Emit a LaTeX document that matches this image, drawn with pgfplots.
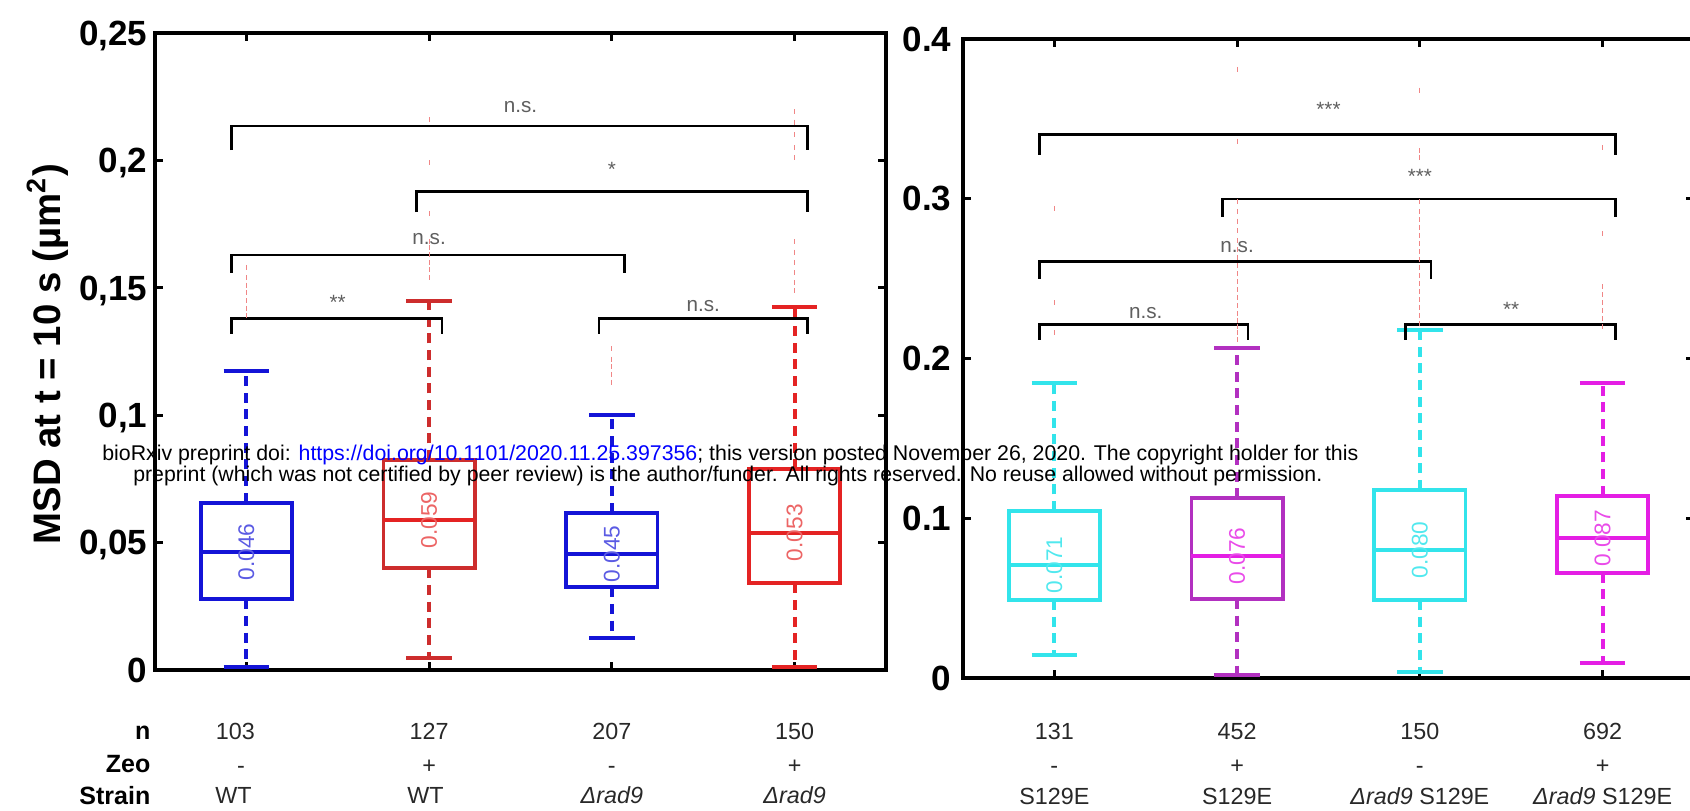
\documentclass[border=0pt]{standalone}
\usepackage{pgfplots}
\pgfplotsset{compat=1.18}
\usepgfplotslibrary{statistics}
\usepackage{fontspec}
\setmainfont{Liberation Sans}
\definecolor{cblue}{RGB}{20,20,215}
\definecolor{cred}{RGB}{228,35,35}
\definecolor{cdred}{RGB}{205,45,45}
\definecolor{ccyan}{RGB}{50,228,235}
\definecolor{cpurple}{RGB}{178,48,192}
\definecolor{cmag}{RGB}{228,30,228}
\definecolor{sig}{RGB}{95,95,95}
\definecolor{urlblue}{RGB}{0,0,255}
\definecolor{txt}{RGB}{40,40,40}

\pgfplotsset{
  mybox/.style={
    scale only axis,
    xmin=0.5, xmax=4.5,
    xtick={1,2,3,4}, xticklabels={},
    tick align=inside,
    major tick length=2.4pt,
    tick style={line width=0.9pt, black},
    axis line style={line width=1.1pt},
    clip=false,
    yticklabel style={font=\fontsize{10.5}{12}\selectfont\bfseries, inner sep=0pt, text depth=0pt, anchor=east},
    boxplot/draw direction=y,
    boxplot/box extend=0.5,
    boxplot/whisker extend=0.25,
    boxplot/draw/lower whisker/.code={%
      \draw[/pgfplots/boxplot/every whisker/.try, dash pattern=on 3pt off 2pt]
        (boxplot cs:\pgfplotsboxplotvalue{lower quartile}) -- (boxplot cs:\pgfplotsboxplotvalue{lower whisker});
      \draw[/pgfplots/boxplot/every whisker/.try, solid]
        (boxplot whisker cs:\pgfplotsboxplotvalue{lower whisker},0) -- (boxplot whisker cs:\pgfplotsboxplotvalue{lower whisker},1);
    },
    boxplot/draw/upper whisker/.code={%
      \draw[/pgfplots/boxplot/every whisker/.try, dash pattern=on 3pt off 2pt]
        (boxplot cs:\pgfplotsboxplotvalue{upper quartile}) -- (boxplot cs:\pgfplotsboxplotvalue{upper whisker});
      \draw[/pgfplots/boxplot/every whisker/.try, solid]
        (boxplot whisker cs:\pgfplotsboxplotvalue{upper whisker},0) -- (boxplot whisker cs:\pgfplotsboxplotvalue{upper whisker},1);
    },
  },
  bx/.style={line width=1.15pt, mark=|, mark size=0.75pt, mark options={solid, draw=cred!55, line width=0.3pt}},
  br/.style={black, line width=0.8pt, mark=none, solid},
}
\tikzset{
  sigt/.style={text=sig, font=\fontsize{6.2}{7}\selectfont, inner sep=0pt},
  medl/.style={rotate=90, font=\fontsize{6.8}{7}\selectfont, inner sep=0pt},
  val/.style={text=txt, font=\fontsize{7}{8}\selectfont, inner sep=0pt, anchor=base},
  lab/.style={font=\fontsize{7.5}{8}\selectfont\bfseries, inner sep=0pt, anchor=base east},
}

\begin{document}
\begin{tikzpicture}
\useasboundingbox (0,0) rectangle (507pt,243.3pt);
\clip (0,0) rectangle (507pt,243.3pt);

% ---------------- left panel ----------------
\begin{axis}[mybox, at={(46.5pt,42.3pt)}, anchor=south west,
  width=219.3pt, height=191.1pt,
  ymin=0, ymax=0.25,
  ytick={0,0.05,0.1,0.15,0.2,0.25},
  yticklabels={0,{0,05},{0,1},{0,15},{0,2},{0,25}},
  yticklabel style={xshift=-2.1pt}]

\addplot[cblue, bx, boxplot prepared={draw position=1, lower whisker=0.0013, lower quartile=0.0277, median=0.0464, upper quartile=0.0657, upper whisker=0.1175}]
  table[row sep=\\, y index=0] {data\\0.139\\0.142\\0.145\\0.148\\0.151\\0.154\\0.158\\};
\addplot[cdred, bx, boxplot/every median/.style={draw=cred}, boxplot prepared={draw position=2, lower whisker=0.0048, lower quartile=0.0399, median=0.0589, upper quartile=0.0824, upper whisker=0.1448}]
  table[row sep=\\, y index=0] {data\\0.154\\0.157\\0.160\\0.163\\0.166\\0.168\\0.179\\0.199\\0.216\\};
\addplot[cblue, bx, boxplot prepared={draw position=3, lower whisker=0.0124, lower quartile=0.0325, median=0.0455, upper quartile=0.0617, upper whisker=0.1001}]
  table[row sep=\\, y index=0] {data\\0.113\\0.116\\0.119\\0.122\\0.126\\};
\addplot[cred, bx, boxplot prepared={draw position=4, lower whisker=0.0013, lower quartile=0.0340, median=0.0539, upper quartile=0.0788, upper whisker=0.1423}]
  table[row sep=\\, y index=0] {data\\0.149\\0.152\\0.156\\0.160\\0.164\\0.168\\0.201\\0.205\\0.210\\0.215\\0.219\\};

\node[medl, text=cblue!70] at (axis cs:1,0.0464) {0.046};
\node[medl, text=cred!70] at (axis cs:2,0.0589) {0.059};
\node[medl, text=cblue!70] at (axis cs:3,0.0455) {0.045};
\node[medl, text=cred!70] at (axis cs:4,0.0539) {0.053};

% significance brackets
\addplot[br] coordinates {(0.92,0.204) (0.92,0.2135) (4.07,0.2135) (4.07,0.204)};
\addplot[br] coordinates {(1.93,0.1797) (1.93,0.1877) (4.07,0.1877) (4.07,0.1797)};
\addplot[br] coordinates {(0.92,0.156) (0.92,0.1629) (3.07,0.1629) (3.07,0.156)};
\addplot[br] coordinates {(0.92,0.132) (0.92,0.138) (2.07,0.138) (2.07,0.132)};
\addplot[br] coordinates {(2.93,0.132) (2.93,0.138) (4.07,0.138) (4.07,0.132)};
\node[sigt] at (axis cs:2.5,0.221) {n.s.};
\node[sigt, yshift=-1.3pt] at (axis cs:3.0,0.198) {*};
\node[sigt] at (axis cs:2.0,0.169) {n.s.};
\node[sigt, yshift=-1.3pt] at (axis cs:1.5,0.146) {**};
\node[sigt] at (axis cs:3.5,0.143) {n.s.};

% table below
\node[lab] at ([xshift=-1.2pt, yshift=-21.0pt]axis cs:0.5,0) {n};
\node[lab] at ([xshift=-1.2pt, yshift=-30.9pt]axis cs:0.5,0) {Zeo};
\node[lab] at ([xshift=-1.2pt, yshift=-40.5pt]axis cs:0.5,0) {Strain};
\node[val] at ([yshift=-20.8pt]axis cs:0.94,0) {103};
\node[val] at ([yshift=-20.8pt]axis cs:2,0) {127};
\node[val] at ([yshift=-20.8pt]axis cs:3,0) {207};
\node[val] at ([yshift=-20.8pt]axis cs:4,0) {150};
\node[val] at ([yshift=-31.0pt]axis cs:0.97,0) {-};
\node[val] at ([yshift=-31.0pt]axis cs:2,0) {+};
\node[val] at ([yshift=-31.0pt]axis cs:3,0) {-};
\node[val] at ([yshift=-31.0pt]axis cs:4,0) {+};
\node[val] at ([yshift=-40.2pt]axis cs:0.93,0) {WT};
\node[val] at ([yshift=-40.2pt]axis cs:1.98,0) {WT};
\node[val] at ([yshift=-40.2pt]axis cs:3,0) {\textit{Δrad9}};
\node[val] at ([yshift=-40.2pt]axis cs:4,0) {\textit{Δrad9}};
\end{axis}

% ---------------- right panel ----------------
\begin{axis}[mybox, at={(288.9pt,39.9pt)}, anchor=south west,
  width=219.3pt, height=191.7pt,
  ymin=0, ymax=0.4,
  ytick={0,0.1,0.2,0.3,0.4},
  yticklabels={0,0.1,0.2,0.3,0.4},
  yticklabel style={xshift=-3.3pt}]

\addplot[ccyan, bx, boxplot prepared={draw position=1, lower whisker=0.0142, lower quartile=0.0488, median=0.0707, upper quartile=0.1045, upper whisker=0.1849}]
  table[row sep=\\, y index=0] {data\\0.216\\0.235\\0.294\\};
\addplot[cpurple, bx, boxplot/every median/.style={draw=cmag}, boxplot prepared={draw position=2, lower whisker=0.0019, lower quartile=0.0495, median=0.0764, upper quartile=0.1125, upper whisker=0.2068}]
  table[row sep=\\, y index=0] {data\\0.212\\0.216\\0.220\\0.224\\0.228\\0.233\\0.238\\0.243\\0.248\\0.253\\0.258\\0.263\\0.268\\0.274\\0.280\\0.286\\0.292\\0.298\\0.336\\0.381\\};
\addplot[ccyan, bx, boxplot prepared={draw position=3, lower whisker=0.0038, lower quartile=0.0488, median=0.0801, upper quartile=0.1177, upper whisker=0.2179}]
  table[row sep=\\, y index=0] {data\\0.222\\0.227\\0.232\\0.237\\0.242\\0.247\\0.252\\0.257\\0.262\\0.267\\0.272\\0.277\\0.282\\0.287\\0.292\\0.298\\0.326\\0.330\\0.368\\};
\addplot[cmag, bx, boxplot prepared={draw position=4, lower whisker=0.0092, lower quartile=0.0659, median=0.0875, upper quartile=0.1141, upper whisker=0.1845}]
  table[row sep=\\, y index=0] {data\\0.220\\0.225\\0.230\\0.235\\0.240\\0.245\\0.278\\0.332\\};

\node[medl, text=ccyan!85] at (axis cs:1,0.0707) {0.071};
\node[medl, text=cmag!80] at (axis cs:2,0.0764) {0.076};
\node[medl, text=ccyan!85] at (axis cs:3,0.0801) {0.080};
\node[medl, text=cmag!80] at (axis cs:4,0.0875) {0.087};

\addplot[br] coordinates {(0.92,0.3274) (0.92,0.3404) (4.07,0.3404) (4.07,0.3274)};
\addplot[br] coordinates {(1.92,0.2888) (1.92,0.2999) (4.07,0.2999) (4.07,0.2888)};
\addplot[br] coordinates {(0.92,0.250) (0.92,0.2606) (3.06,0.2606) (3.06,0.250)};
\addplot[br] coordinates {(0.92,0.2116) (0.92,0.2214) (2.06,0.2214) (2.06,0.2116)};
\addplot[br] coordinates {(2.92,0.2116) (2.92,0.2214) (4.07,0.2214) (4.07,0.2116)};
\node[sigt, yshift=-1.3pt] at (axis cs:2.5,0.3587) {***};
\node[sigt, yshift=-1.3pt] at (axis cs:3.0,0.317) {***};
\node[sigt] at (axis cs:2.0,0.270) {n.s.};
\node[sigt] at (axis cs:1.5,0.2285) {n.s.};
\node[sigt, yshift=-1.3pt] at (axis cs:3.5,0.2335) {**};

\node[val] at ([yshift=-18.4pt]axis cs:1,0) {131};
\node[val] at ([yshift=-18.4pt]axis cs:2,0) {452};
\node[val] at ([yshift=-18.4pt]axis cs:3,0) {150};
\node[val] at ([yshift=-18.4pt]axis cs:4,0) {692};
\node[val] at ([yshift=-28.6pt]axis cs:1,0) {-};
\node[val] at ([yshift=-28.6pt]axis cs:2,0) {+};
\node[val] at ([yshift=-28.6pt]axis cs:3,0) {-};
\node[val] at ([yshift=-28.6pt]axis cs:4,0) {+};
\node[val] at ([yshift=-38.0pt]axis cs:1,0) {S129E};
\node[val] at ([yshift=-38.0pt]axis cs:2,0) {S129E};
\node[val] at ([yshift=-38.0pt]axis cs:3,0) {\textit{Δrad9} S129E};
\node[val] at ([yshift=-38.0pt]axis cs:4,0) {\textit{Δrad9} S129E};
\end{axis}

% y label
\node[rotate=90, anchor=base, inner sep=0pt, font=\fontsize{11.5}{13}\selectfont\bfseries] at (18pt,137.1pt) {MSD at t = 10 s (µm\textsuperscript{2})};

% preprint notice
\node[anchor=base west, inner sep=0pt] at (30.5pt,105.1pt) {\resizebox{376.8pt}{!}{bioRxiv preprint doi: \textcolor{urlblue}{https://doi.org/10.1101/2020.11.25.397356}; this version posted November 26, 2020. The copyright holder for this}};
\node[anchor=base west, inner sep=0pt] at (39.8pt,98.8pt) {\resizebox{356.7pt}{!}{preprint (which was not certified by peer review) is the author/funder. All rights reserved. No reuse allowed without permission.}};
\end{tikzpicture}
\end{document}
